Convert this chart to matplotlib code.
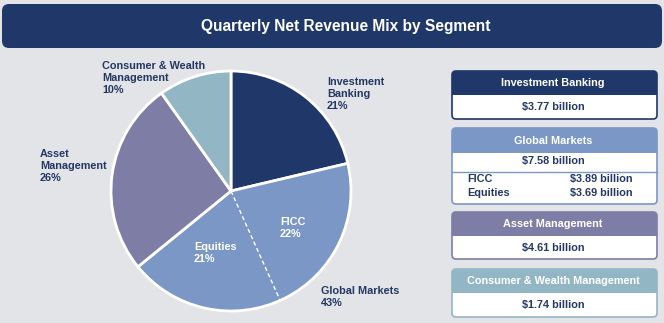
import matplotlib
matplotlib.use("Agg")
import matplotlib.pyplot as plt
from matplotlib.patches import FancyBboxPatch, Rectangle
import numpy as np

plt.rcParams['font.family'] = ['Liberation Sans', 'DejaVu Sans']

# ---- data ----
segments = ["Investment Banking", "Global Markets", "Asset Management", "Consumer & Wealth Management"]
revenue_bn = [3.77, 7.58, 4.61, 1.74]
gm_sub_names = ["FICC", "Equities"]
gm_sub_bn = [3.89, 3.69]
pie_labels = ["Investment\nBanking\n21%", "Global Markets\n43%", "Asset\nManagement\n26%",
              "Consumer & Wealth\nManagement\n10%"]
sub_labels = ["FICC\n22%", "Equities\n21%"]
title = "Quarterly Net Revenue Mix by Segment"

# ---- style ----
BG = "#E3E4E8"
NAVY = "#1F3769"
GMBLUE = "#7B97C5"
PURPLE = "#7E7DA5"
TEAL = "#93B6C4"
seg_colors = [NAVY, GMBLUE, PURPLE, TEAL]
TXT = "#243763"

W, H = 664, 323
fig = plt.figure(figsize=(W / 100, H / 100), dpi=100)
fig.patch.set_facecolor(BG)
ax = fig.add_axes([0, 0, 1, 1])
ax.set_facecolor(BG)

def Y(y):
    return H - y

# title bar
ax.add_patch(FancyBboxPatch((2, Y(48)), 660, 44, boxstyle="round,pad=0,rounding_size=7",
                            facecolor=NAVY, edgecolor="none"))
ax.text(346, Y(27), title, color="white", fontsize=11.2, fontweight="bold",
        ha="center", va="center")

# pie
cx, cy, R = 231, Y(191), 120
ax.pie(revenue_bn, colors=seg_colors, startangle=90, counterclock=False, radius=R,
       center=(cx, cy), wedgeprops=dict(edgecolor="white", linewidth=2))
total = sum(revenue_bn)
ang = np.deg2rad(90 - (revenue_bn[0] + gm_sub_bn[0]) / total * 360)
ax.plot([cx, cx + R * np.cos(ang)], [cy, cy + R * np.sin(ang)], color="white",
        lw=1, ls=(0, (3, 2)))

# pie labels
lab_pos = [(327, 82), (321, 291), (40, 154), (102, 66)]
for (x, y), t in zip(lab_pos, pie_labels):
    ax.text(x, Y(y - 5), t, color=TXT, fontsize=7.8, fontweight="bold", ha="left",
            va="top", linespacing=1.22)
sub_pos = [(280, 222), (194, 247)]
for (x, y), t in zip(sub_pos, sub_labels):
    ax.text(x, Y(y - 5), t, color="white", fontsize=7.8, fontweight="bold", ha="left",
            va="top", linespacing=1.22)

# right-hand boxes
bx0, bx1 = 452, 657
boxes = [  # (top, header_bottom, bottom)
    (71, 95, 119),
    (128, 153, 204),
    (212, 236, 259),
    (269, 293, 317),
]
border_cols = [NAVY, GMBLUE, PURPLE, TEAL]
for i, (top, hb, bot) in enumerate(boxes):
    w = bx1 - bx0
    ax.add_patch(FancyBboxPatch((bx0, Y(bot)), w, bot - top,
                                boxstyle="round,pad=0,rounding_size=4",
                                facecolor=seg_colors[i], edgecolor="none", zorder=2))
    ax.add_patch(FancyBboxPatch((bx0, Y(bot)), w, bot - hb,
                                boxstyle="round,pad=0,rounding_size=4",
                                facecolor="white", edgecolor="none", zorder=3))
    ax.add_patch(Rectangle((bx0, Y(hb) - 6), w, 6, facecolor="white", edgecolor="none", zorder=3))
    ax.add_patch(FancyBboxPatch((bx0, Y(bot)), w, bot - top,
                                boxstyle="round,pad=0,rounding_size=4",
                                facecolor="none", edgecolor=border_cols[i], lw=1.2, zorder=4))
    ax.text(553, Y((top + hb) / 2), segments[i], color="white", fontsize=7.8,
            fontweight="bold", ha="center", va="center", zorder=5)
    if i == 1:
        vy = 161
        ax.plot([bx0, bx1], [Y(172), Y(172)], color=GMBLUE, lw=1, zorder=4)
        for j, (nm, v) in enumerate(zip(gm_sub_names, gm_sub_bn)):
            yy = 179 + j * 14
            ax.text(467, Y(yy), nm, color=TXT, fontsize=7.8, fontweight="bold",
                    ha="left", va="center", zorder=5)
            ax.text(570, Y(yy), f"${v:.2f} billion", color=TXT, fontsize=7.8,
                    fontweight="bold", ha="left", va="center", zorder=5)
    else:
        vy = (hb + bot) / 2
    ax.text(553, Y(vy), f"${revenue_bn[i]:.2f} billion", color=TXT, fontsize=7.8,
            fontweight="bold", ha="center", va="center", zorder=5)

ax.set_xlim(0, W)
ax.set_ylim(0, H)
ax.set_aspect("auto")
ax.axis("off")
fig.savefig("out.png", dpi=100, facecolor=BG)
